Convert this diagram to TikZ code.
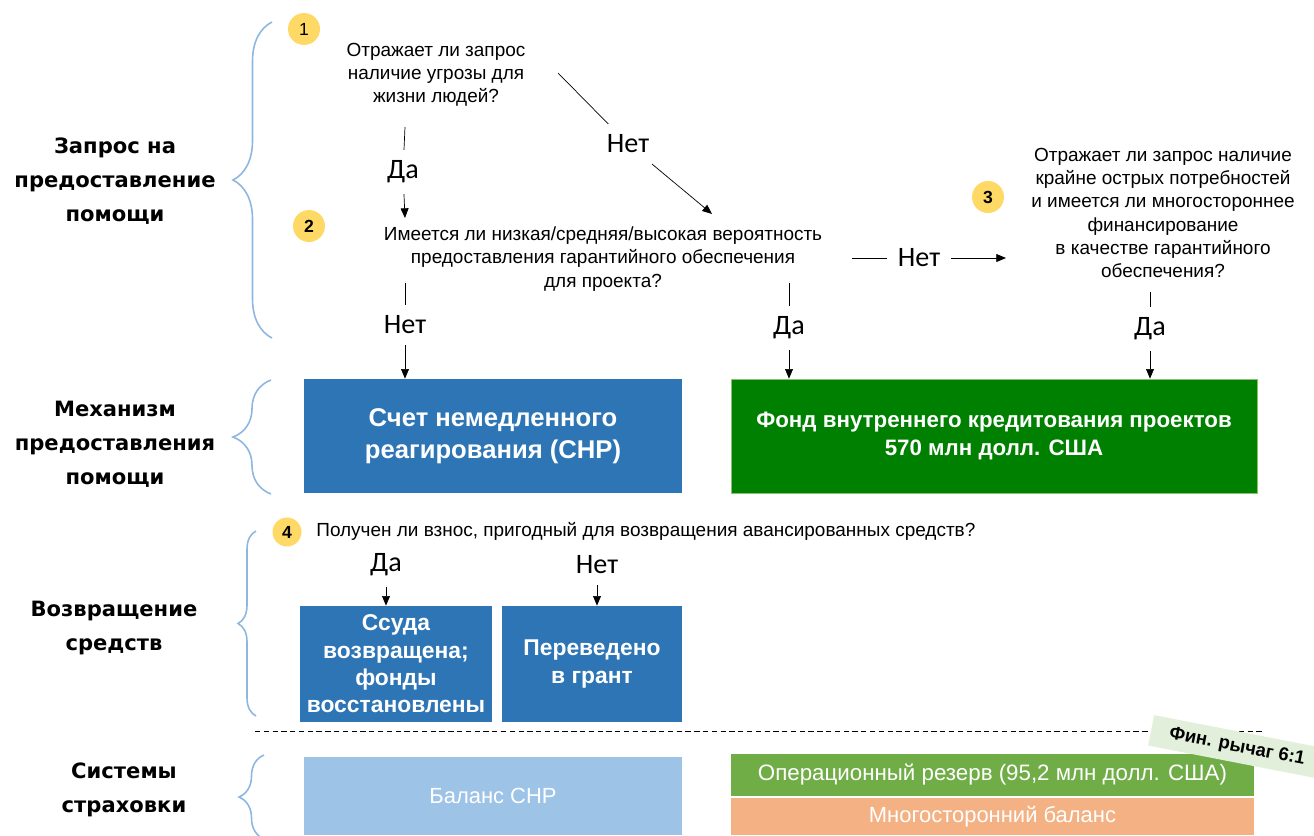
\documentclass[tikz,border=0pt]{standalone}
\usepackage{fontspec}
\setmainfont{Liberation Sans}
\newfontfamily\headfont{DejaVu Sans}
\newfontfamily\answerfont{Carlito}
\usepackage{tikz}
\usetikzlibrary{decorations.pathreplacing,arrows.meta}
\definecolor{cerfblue}{HTML}{2E75B6}
\definecolor{fundgreen}{HTML}{008000}
\definecolor{fundedge}{HTML}{8CC16B}
\definecolor{balblue}{HTML}{9DC3E6}
\definecolor{reservegreen}{HTML}{70AD47}
\definecolor{multiorange}{HTML}{F4B183}
\definecolor{levergreen}{HTML}{E2EFDA}
\definecolor{badgeyellow}{HTML}{FFD966}
\definecolor{bracecolor}{HTML}{8DB6E0}

\begin{document}
\begin{tikzpicture}[x=0.02cm,y=-0.02cm,thin]
        %
        % `question' is used for the decision texts, `answer' for Da/Net.
        % `badge' is used for the yellow numbers.
        % `group' is used for the braces on the left.
        \tikzstyle{question} = [align=center,inner sep=0pt,font=\fontsize{10.8}{13.2}\selectfont]
        \tikzstyle{answer} = [inner sep=6pt,font=\answerfont\fontsize{16}{18}\selectfont]
        \tikzstyle{badge} = [circle,fill=badgeyellow,inner sep=0pt,minimum size=0.64cm,font=\fontsize{10}{12}\selectfont]
        \tikzstyle{heading} = [align=center,font=\headfont\bfseries\fontsize{12}{19.3}\selectfont]
        \tikzstyle{fundbox} = [align=center,text=white,inner sep=0pt,font=\bfseries\fontsize{13}{15.6}\selectfont]
        \tikzstyle{safebox} = [align=center,text=white,inner sep=0pt,font=\fontsize{12.5}{15}\selectfont]
        \tikzstyle{group} = [draw=bracecolor,line width=0.9pt,decorate]
        \tikzstyle{flow} = [-{Triangle[length=5.5pt,width=4.5pt]}]
        %
        \useasboundingbox (0,0) rectangle (1314,835);
        %
        % Headings
        \node[heading] (head1) at (115,181) {Запрос на\\предоставление\\помощи};
        \node[heading] (head2) at (115,444) {Механизм\\предоставления\\помощи};
        \node[heading] (head3) at (114,628) {Возвращение\\средств};
        \node[heading] (head4) at (124,790) {Системы\\страховки};
        %
        % Braces
        \draw[group,decoration={brace,amplitude=0.78cm}] (272,338) -- (272,22);
        \draw[group,decoration={brace,amplitude=0.76cm}] (271,494) -- (271,380);
        \draw[group,decoration={brace,amplitude=0.36cm}] (256,716) -- (256,531);
        \draw[group,decoration={brace,amplitude=0.5cm}] (264,839) -- (264,755);
        %
        % Numbers
        \node[badge] (b1) at (304,29) {1};
        \node[badge,font=\bfseries\fontsize{10}{12}\selectfont] (b2) at (309,226) {2};
        \node[badge,font=\bfseries\fontsize{10}{12}\selectfont] (b3) at (988,197) {3};
        \node[badge,minimum size=0.58cm,font=\bfseries\fontsize{10}{12}\selectfont] (b4) at (287,532) {4};
        %
        % Questions
        \node[question] (ask1) at (436,75) {Отражает ли запрос\\наличие угрозы для\\жизни людей?};
        \node[question] (ask2) at (603,259) {Имеется ли низкая/средняя/высокая вероятность\\предоставления гарантийного обеспечения\\для проекта?};
        \node[question] (ask3) at (1163,213) {Отражает ли запрос наличие\\крайне острых потребностей\\и имеется ли многостороннее\\финансирование\\в качестве гарантийного\\обеспечения?};
        \node[question,anchor=west] (ask4) at (316,531) {Получен ли взнос, пригодный для возвращения авансированных средств?};
        %
        % Mechanisms
        \node[fill=cerfblue,minimum width=7.56cm,minimum height=2.28cm,fundbox,font=\bfseries\fontsize{14.6}{18}\selectfont] (cerf) at (493,436) {Счет немедленного\\реагирования (СНР)};
        \node[fill=fundgreen,draw=fundedge,minimum width=10.52cm,minimum height=2.28cm,fundbox,font=\bfseries\fontsize{12.7}{16}\selectfont] (fund) at (994,436) {Фонд внутреннего кредитования проектов\\570 млн долл. США};
        %
        % Repayment
        \node[fill=cerfblue,minimum width=3.84cm,minimum height=2.32cm,fundbox] (loan) at (396,664) {Ссуда\\возвращена;\\фонды\\восстановлены};
        \node[fill=cerfblue,minimum width=3.6cm,minimum height=2.32cm,fundbox] (grant) at (592,664) {Переведено\\в грант};
        %
        % Safety nets
        \node[fill=balblue,minimum width=7.56cm,minimum height=1.56cm,safebox] (bal) at (493,796) {Баланс СНР};
        \node[fill=reservegreen,minimum width=10.46cm,minimum height=0.84cm,safebox,font=\fontsize{12.7}{15}\selectfont] (reserve) at (992.5,775) {Операционный резерв (95,2 млн долл. США)};
        \node[fill=multiorange,minimum width=10.46cm,minimum height=0.74cm,safebox] (multi) at (992.5,816.5) {Многосторонний баланс};
        %
        % Answers
        \node[answer] (yes1) at (403,172) {Да};
        \node[answer] (no1) at (628,144) {Нет};
        \node[answer] (no2) at (405,325) {Нет};
        \node[answer] (yes2) at (789,328) {Да};
        \node[answer] (no3) at (919,258) {Нет};
        \node[answer] (yes3) at (1150,329) {Да};
        \node[answer] (yes4) at (386,565) {Да};
        \node[answer] (no4) at (597,565) {Нет};
        %
        % Free ends
        \coordinate (t1) at (405,127);
        \coordinate (h1) at (405,218);
        \coordinate (t2) at (558,73);
        \coordinate (h2) at (712,214);
        \coordinate (t3) at (405,283);
        \coordinate (t4) at (789,283);
        \coordinate (t5) at (852,258);
        \coordinate (h5) at (1006,258);
        \coordinate (t6) at (1150,292);
        %
        % Connectors
        \draw (t1) -- (yes1);
        \draw[flow] (yes1) -- (h1);
        \draw (t2) -- (no1);
        \draw[flow] (no1) -- (h2);
        \draw (t3) -- (no2);
        \draw[flow] (no2) -- (cerf.north -| no2);
        \draw (t4) -- (yes2);
        \draw[flow] (yes2) -- (fund.north -| yes2);
        \draw (t5) -- (no3);
        \draw[flow] (no3) -- (h5);
        \draw (t6) -- (yes3);
        \draw[flow] (yes3) -- (fund.north -| yes3);
        \draw[flow] (yes4) -- (loan.north -| yes4);
        \draw[flow] (no4) -- (grant.north -| no4);
        %
        % Dashed line
        \coordinate (sepl) at (255,731);
        \coordinate (sepr) at (1265,731);
        \draw[densely dashed,line width=0.5pt] (sepl) -- (sepr);
        %
        % Leverage tag
        \node[fill=levergreen,rotate=-11,minimum width=3.5cm,minimum height=0.62cm,font=\bfseries\fontsize{10.5}{12}\selectfont] (lever) at (1237,747) {Фин. рычаг 6:1};
        %
\end{tikzpicture}
\end{document}
